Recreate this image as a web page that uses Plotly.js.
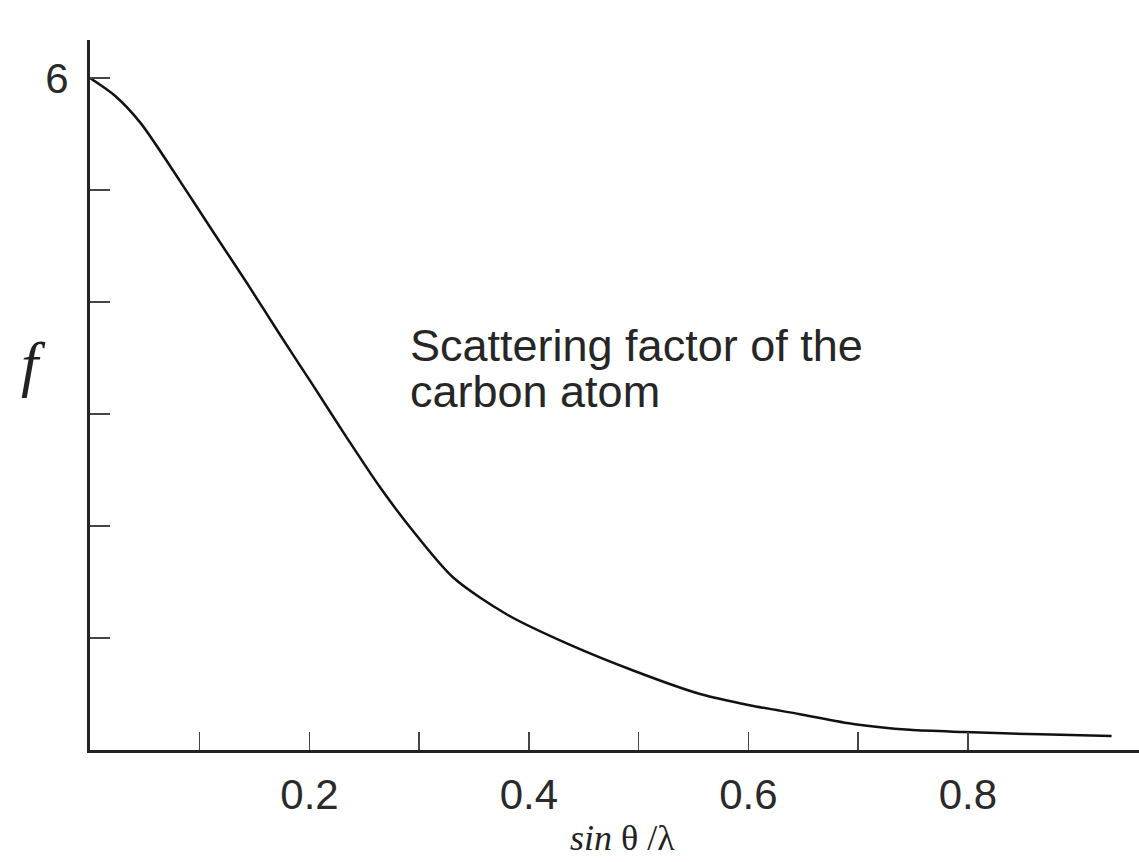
<!DOCTYPE html>
<html>
<head>
<meta charset="utf-8">
<script src="https://cdn.plot.ly/plotly-3.0.1.min.js"></script>
<style>html,body{margin:0;padding:0;background:#fff;}#chart{width:1139px;height:862px;}</style>
</head>
<body>
<div id="chart"></div>
<script>
// sin(theta)/lambda values
const sinThetaOverLambda = [0, 0.023, 0.046, 0.082, 0.112, 0.143, 0.173, 0.203, 0.234, 0.264, 0.294, 0.331, 0.380, 0.435, 0.495, 0.556, 0.601, 0.647, 0.697, 0.747, 0.797, 0.866, 0.931];
// scattering factor f of carbon
const scatteringFactor = [6.0, 5.84, 5.60, 5.08, 4.63, 4.17, 3.71, 3.26, 2.79, 2.35, 1.96, 1.54, 1.21, 0.95, 0.71, 0.50, 0.40, 0.32, 0.23, 0.18, 0.16, 0.14, 0.125];
const xTickVals = [0.1, 0.2, 0.3, 0.4, 0.5, 0.6, 0.7, 0.8];
const xTickText = ['', '0.2', '', '0.4', '', '0.6', '', '0.8'];
const yTickVals = [1, 2, 3, 4, 5, 6];
const yTickText = ['', '', '', '', '', '6'];
const labelLine1 = 'Scattering factor of the';
const labelLine2 = 'carbon atom';

const trace = {
  x: sinThetaOverLambda,
  y: scatteringFactor,
  type: 'scatter',
  mode: 'lines',
  line: {color: '#111', width: 2.5, shape: 'spline', smoothing: 0.8},
  hoverinfo: 'skip'
};

const layout = {
  width: 1139, height: 862,
  margin: {l: 90, r: 0, t: 40, b: 112},
  paper_bgcolor: '#fff', plot_bgcolor: '#fff',
  showlegend: false,
  font: {family: 'Liberation Sans, Arial, sans-serif', color: '#2a2a2a'},
  xaxis: {
    range: [0, 0.956], showgrid: false, zeroline: false,
    showline: true, linecolor: '#222', linewidth: 3,
    ticks: 'inside', ticklen: 18, tickwidth: 1.5, tickcolor: '#444',
    tickvals: xTickVals, ticktext: xTickText,
    tickfont: {size: 42, color: '#2a2a2a'}, ticklabelstandoff: 6
  },
  yaxis: {
    range: [0, 6.34], showgrid: false, zeroline: false,
    showline: true, linecolor: '#222', linewidth: 3,
    ticks: 'inside', ticklen: 20, tickwidth: 1.5, tickcolor: '#444',
    tickvals: yTickVals, ticktext: yTickText,
    tickfont: {size: 42, color: '#2a2a2a'}, ticklabelstandoff: 10
  },
  annotations: [
    {xref: 'paper', yref: 'paper', x: (408-90)/1049, y: (750-345)/710, xanchor: 'left', yanchor: 'middle',
     text: labelLine1, showarrow: false, font: {size: 45, color: '#262626', family: 'Liberation Sans, Arial, sans-serif'}},
    {xref: 'paper', yref: 'paper', x: (408-90)/1049, y: (750-391)/710, xanchor: 'left', yanchor: 'middle',
     text: labelLine2, showarrow: false, font: {size: 45, color: '#262626', family: 'Liberation Sans, Arial, sans-serif'}},
    {xref: 'paper', yref: 'paper', x: (622-90)/1049, y: (750-838)/710, xanchor: 'center', yanchor: 'middle',
     text: '<i>sin</i> θ /λ', showarrow: false, font: {size: 36, color: '#222', family: 'Liberation Serif, Times New Roman, serif'}},
    {xref: 'paper', yref: 'paper', x: (33-90)/1049, y: (750-364)/710, xanchor: 'center', yanchor: 'middle',
     text: '<i>f</i>', showarrow: false, font: {size: 62, color: '#222', family: 'Liberation Serif, Times New Roman, serif'}}
  ]
};

Plotly.newPlot('chart', [trace], layout, {displayModeBar: false, staticPlot: true});
</script>
</body>
</html>
